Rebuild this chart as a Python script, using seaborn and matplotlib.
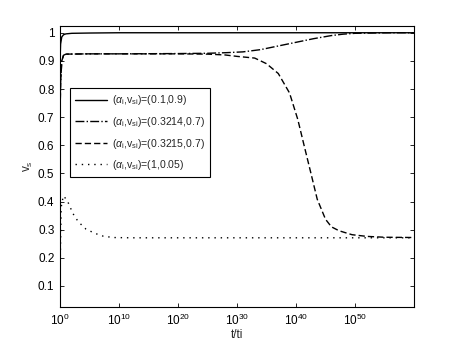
import numpy as np
import pandas as pd
import matplotlib
matplotlib.use("Agg")
import matplotlib.pyplot as plt
import seaborn as sns

# ---- data (log10 of t/ti, and v_s) ----
solid_dec = [0, 0.1, 0.3, 0.6, 1, 2, 5, 10, 60]
solid_v = [0.9, 0.96, 0.985, 0.993, 0.996, 0.998, 0.999, 1.0, 1.0]

dashdot_dec = [0, 0.1, 0.3, 0.6, 1, 5, 10, 20, 25, 28, 31, 34, 37, 40, 43, 46, 48, 50, 53, 56, 60]
dashdot_v = [0.7, 0.82, 0.9, 0.92, 0.924, 0.925, 0.925, 0.926, 0.927, 0.929, 0.932, 0.940,
             0.953, 0.966, 0.979, 0.99, 0.995, 0.998, 0.999, 1.0, 1.0]

dashed_dec = [0, 0.1, 0.3, 0.6, 1, 5, 10, 20, 25, 28, 30, 33, 35, 37, 38.9, 40.3, 41.4,
              42.5, 43.6, 45, 46, 47.3, 49.5, 52, 55, 60]
dashed_v = [0.7, 0.82, 0.9, 0.92, 0.924, 0.925, 0.925, 0.925, 0.924, 0.921, 0.916, 0.91,
            0.89, 0.855, 0.786, 0.692, 0.597, 0.503, 0.408, 0.337, 0.31, 0.296, 0.282,
            0.276, 0.273, 0.272]

dotted_dec = [0, 0.05, 0.2, 0.56, 1.2, 2.2, 3.1, 4.4, 5.9, 7.3, 9, 12, 60]
dotted_v = [0.05, 0.2, 0.38, 0.42, 0.405, 0.357, 0.328, 0.302, 0.287, 0.277, 0.272, 0.271, 0.271]

labels = [r"($\alpha_{\rm i}$,v$_{\rm si}$)=(0.1,0.9)",
          r"($\alpha_{\rm i}$,v$_{\rm si}$)=(0.3214,0.7)",
          r"($\alpha_{\rm i}$,v$_{\rm si}$)=(0.3215,0.7)",
          r"($\alpha_{\rm i}$,v$_{\rm si}$)=(1,0.05)"]

yticks = [0.1, 0.2, 0.3, 0.4, 0.5, 0.6, 0.7, 0.8, 0.9, 1.0]
ytick_labels = ["0.1", "0.2", "0.3", "0.4", "0.5", "0.6", "0.7", "0.8", "0.9", "1"]
xtick_exp = [0, 10, 20, 30, 40, 50]

sns.set_style("ticks", {"xtick.direction": "in", "ytick.direction": "in"})
plt.rcParams["font.family"] = ["Liberation Sans", "DejaVu Sans"]
plt.rcParams["mathtext.fontset"] = "custom"
plt.rcParams["mathtext.rm"] = "Liberation Sans"
plt.rcParams["mathtext.it"] = "Liberation Sans:italic"
plt.rcParams["font.size"] = 8.5

fig = plt.figure(figsize=(4.57, 3.46), dpi=100)
ax = fig.add_axes([60 / 457, 1 - 307 / 346, (414 - 60) / 457, (307 - 26) / 346])

series = [(solid_dec, solid_v, "-"),
          (dashdot_dec, dashdot_v, "-."),
          (dashed_dec, dashed_v, (0, (4.5, 2.2))),
          (dotted_dec, dotted_v, (0, (1, 3.5)))]
for (d, v, ls), lab in zip(series, labels):
    df = pd.DataFrame({"t": np.power(10.0, np.array(d)), "v": v})
    sns.lineplot(data=df, x="t", y="v", ax=ax, color="black", linewidth=1.0,
                 linestyle=ls, label=lab, sort=False)

ax.set_xscale("log")
ax.set_xlim(1, 1e60)
ax.set_ylim(0.025, 1.024)
ax.set_xticks([10.0 ** e for e in xtick_exp])
ax.set_xticklabels([r"$10^{%d}$" % e for e in xtick_exp])
ax.xaxis.set_minor_locator(matplotlib.ticker.NullLocator())
ax.set_yticks(yticks)
ax.set_yticklabels(ytick_labels)
ax.tick_params(axis="both", which="both", direction="in", top=True, right=True,
               length=3, width=0.6, labelsize=8.5, colors="black", pad=4)
for s in ax.spines.values():
    s.set_linewidth(0.8)
    s.set_color("black")
    s.set_visible(True)
ax.set_xlabel("t/ti", fontsize=8.5, labelpad=1)
ax.set_ylabel(r"v$_{\rm s}$", fontsize=8.5, labelpad=2)

leg = ax.legend(loc="upper left", bbox_to_anchor=(0.028, 0.779), borderaxespad=0,
                fancybox=False, frameon=True, edgecolor="black", framealpha=1,
                handlelength=3.0, labelspacing=0.72, fontsize=7.6, borderpad=0.5,
                handletextpad=0.5)
leg.get_frame().set_linewidth(0.8)

fig.savefig("out.png", dpi=100)
